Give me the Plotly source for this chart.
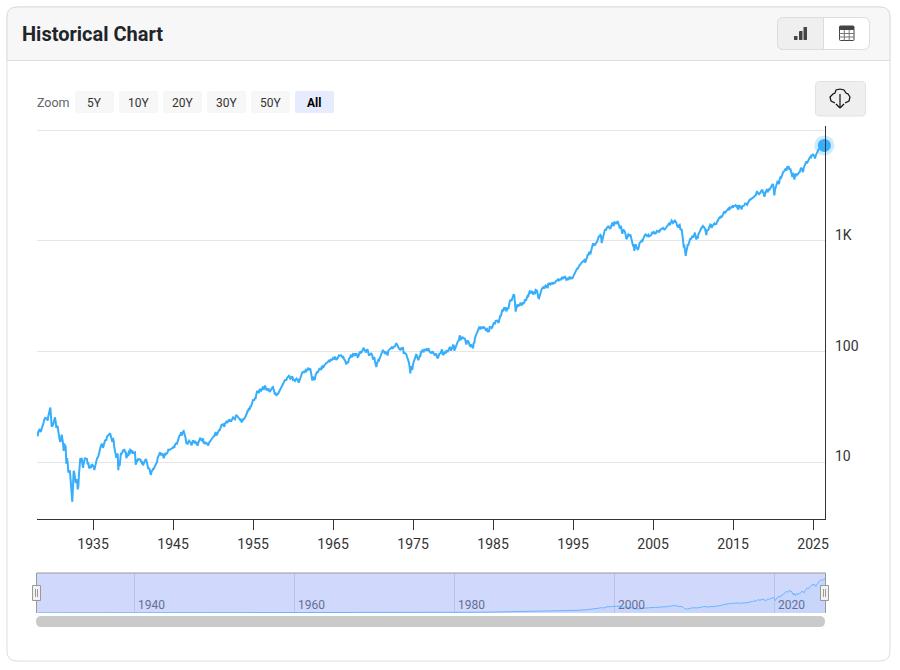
import pandas as pd
import plotly.graph_objects as go

# monthly closes, one row per year from 1928
closes = [
    17.6, 17.3, 18.9, 19.8, 20.0, 19.0, 19.1, 20.1, 21.0, 21.0, 23.0, 24.4,
    25.2, 25.0, 24.8, 25.2, 23.8, 26.1, 27.6, 29.9, 31.3, 26.0, 21.0, 21.5,
    21.7, 23.1, 24.5, 25.5, 23.5, 20.5, 21.2, 21.0, 19.0, 16.5, 16.0, 15.3,
    15.9, 17.8, 16.9, 15.0, 12.7, 14.8, 13.9, 13.9, 9.7, 10.9, 10.0, 8.1,
    8.3, 8.5, 7.5, 5.8, 4.5, 4.4, 6.1, 8.4, 8.0, 7.0, 6.5, 6.9,
    7.0, 5.7, 6.0, 7.8, 9.6, 10.9, 10.0, 11.0, 9.8, 8.9, 9.7, 10.1,
    11.0, 10.8, 10.8, 10.7, 9.6, 10.0, 8.8, 9.2, 9.1, 8.9, 9.5, 9.5,
    9.3, 9.1, 8.5, 9.3, 9.8, 10.2, 10.8, 11.0, 11.3, 12.0, 13.0, 13.4,
    14.2, 14.5, 14.7, 13.5, 14.3, 14.7, 15.7, 15.9, 15.9, 17.0, 17.3, 17.2,
    17.9, 18.1, 18.0, 16.5, 16.3, 15.3, 16.6, 15.7, 13.6, 12.8, 11.5, 11.0,
    11.3, 12.0, 8.5, 10.0, 9.3, 11.5, 12.2, 12.0, 12.3, 13.0, 12.5, 13.2,
    12.3, 12.6, 10.9, 11.3, 12.0, 11.4, 12.8, 11.8, 13.0, 12.9, 12.4, 12.5,
    12.0, 12.3, 12.2, 12.3, 9.5, 9.9, 10.2, 10.6, 10.5, 10.7, 10.6, 10.6,
    10.2, 9.9, 10.0, 9.4, 9.7, 10.2, 10.7, 10.7, 10.5, 9.8, 9.5, 8.7,
    8.9, 8.6, 8.0, 7.7, 8.3, 8.4, 8.7, 8.7, 9.0, 9.3, 9.4, 9.8,
    10.1, 11.0, 11.6, 11.7, 12.1, 12.3, 11.7, 11.7, 12.0, 11.7, 10.9, 11.5,
    11.9, 11.8, 12.2, 11.9, 12.3, 13.0, 12.9, 13.0, 13.0, 13.1, 13.2, 13.3,
    13.5, 14.0, 13.5, 14.4, 14.8, 14.9, 14.8, 15.5, 16.2, 16.9, 17.7, 17.4,
    18.7, 17.4, 18.4, 19.0, 19.2, 18.4, 17.9, 16.5, 14.9, 14.7, 14.7, 15.3,
    15.7, 15.4, 15.2, 14.6, 14.3, 15.1, 15.8, 15.3, 15.1, 15.4, 15.0, 15.3,
    14.7, 14.1, 15.0, 15.5, 16.6, 16.7, 16.0, 16.0, 15.5, 16.5, 14.8, 15.2,
    15.3, 14.6, 15.1, 14.7, 14.2, 14.2, 15.0, 15.3, 15.6, 16.0, 16.3, 16.8,
    17.0, 17.2, 17.3, 18.0, 18.8, 17.7, 17.8, 18.4, 19.5, 19.5, 19.5, 20.4,
    21.7, 22.0, 21.5, 22.4, 21.5, 21.0, 22.4, 23.3, 23.3, 22.9, 23.0, 23.8,
    24.1, 23.3, 24.4, 23.3, 23.9, 24.9, 25.4, 25.0, 24.5, 24.5, 26.0, 26.6,
    26.4, 25.9, 25.3, 24.6, 24.5, 24.1, 24.8, 23.3, 23.5, 24.5, 24.8, 24.8,
    26.1, 26.2, 26.9, 28.3, 29.2, 29.2, 30.9, 29.8, 32.3, 31.7, 34.2, 36.0,
    36.6, 36.8, 36.6, 38.0, 38.0, 41.0, 43.5, 43.2, 43.7, 42.3, 45.5, 45.5,
    43.8, 45.3, 48.5, 48.4, 45.2, 47.0, 49.4, 47.5, 45.4, 45.6, 45.1, 46.7,
    45.0, 43.3, 44.1, 45.7, 47.4, 47.4, 47.9, 45.2, 42.4, 41.1, 41.7, 39.9,
    41.7, 40.8, 42.1, 43.4, 44.1, 45.2, 47.2, 47.8, 50.1, 51.3, 52.5, 55.2,
    55.4, 55.4, 55.4, 57.6, 58.7, 58.5, 60.5, 59.6, 56.9, 57.5, 58.3, 59.9,
    55.6, 56.1, 55.3, 54.4, 55.8, 57.0, 55.5, 57.0, 53.5, 53.4, 55.5, 58.1,
    61.8, 63.4, 65.1, 65.3, 66.6, 64.6, 66.8, 68.1, 66.7, 68.6, 71.3, 71.5,
    68.8, 69.9, 69.6, 65.2, 59.6, 54.8, 58.2, 59.1, 56.3, 56.5, 62.3, 63.1,
    66.2, 64.3, 66.6, 70.0, 70.8, 69.4, 69.1, 72.5, 71.7, 74.0, 73.2, 75.0,
    77.0, 77.8, 78.9, 79.5, 80.4, 81.7, 83.2, 81.8, 84.2, 84.9, 84.4, 84.8,
    87.6, 87.4, 86.2, 89.1, 88.4, 84.1, 85.3, 87.2, 89.9, 92.4, 91.6, 92.4,
    92.9, 91.2, 89.2, 91.1, 86.1, 84.7, 83.6, 77.1, 76.6, 80.2, 80.5, 80.3,
    86.6, 87.4, 90.2, 94.0, 89.1, 90.6, 94.8, 93.6, 96.7, 93.3, 94.0, 96.5,
    92.2, 89.4, 90.2, 97.6, 98.7, 99.6, 97.7, 98.9, 102.7, 103.4, 108.4, 103.9,
    103.0, 98.1, 101.5, 103.7, 103.5, 97.7, 91.8, 95.5, 93.1, 97.2, 93.8, 92.1,
    85.0, 89.5, 89.6, 81.5, 76.6, 72.7, 78.0, 81.5, 84.2, 83.3, 87.2, 92.2,
    95.9, 97.0, 100.3, 103.9, 99.6, 99.7, 95.6, 99.0, 98.3, 94.2, 93.9, 102.1,
    103.9, 106.6, 107.2, 107.7, 109.5, 107.1, 107.4, 111.1, 110.6, 111.6, 116.7, 118.1,
    116.0, 111.7, 111.5, 106.9, 104.9, 104.3, 108.2, 104.3, 108.4, 108.3, 95.9, 97.6,
    96.6, 96.2, 93.9, 90.3, 87.3, 86.0, 79.3, 72.2, 63.5, 73.9, 69.9, 68.6,
    76.9, 81.6, 83.4, 87.3, 91.2, 95.2, 88.8, 86.9, 83.9, 89.0, 91.2, 90.2,
    100.9, 99.7, 102.8, 101.6, 100.2, 104.3, 103.4, 102.9, 105.2, 102.9, 102.1, 107.5,
    102.0, 99.8, 98.4, 98.4, 96.1, 100.5, 98.9, 96.8, 96.5, 92.3, 94.8, 95.1,
    89.3, 87.0, 89.2, 97.0, 97.2, 95.5, 100.7, 103.3, 102.5, 93.2, 94.7, 96.1,
    99.9, 96.3, 101.6, 101.8, 99.1, 102.9, 103.8, 109.3, 109.3, 101.8, 106.2, 107.9,
    114.2, 113.7, 102.1, 106.3, 111.2, 114.2, 121.7, 122.4, 125.5, 127.5, 140.5, 135.8,
    129.6, 131.3, 136.0, 132.8, 132.6, 131.2, 130.9, 122.8, 116.2, 121.9, 126.4, 122.6,
    120.4, 113.1, 112.0, 116.4, 111.9, 109.6, 107.1, 119.5, 120.4, 133.7, 138.5, 140.6,
    145.3, 148.1, 153.0, 164.4, 162.4, 168.1, 162.6, 164.4, 166.1, 163.6, 166.4, 164.9,
    163.4, 157.1, 159.2, 160.1, 150.6, 153.2, 150.7, 166.7, 166.1, 166.1, 163.6, 167.2,
    179.6, 181.2, 180.7, 179.8, 189.6, 191.9, 190.9, 188.6, 182.1, 189.8, 202.2, 211.3,
    211.8, 226.9, 238.9, 235.5, 247.4, 250.8, 236.1, 252.9, 231.3, 244.0, 249.2, 242.2,
    274.1, 284.2, 291.7, 288.4, 290.1, 304.0, 318.7, 329.8, 321.8, 251.8, 230.3, 247.1,
    257.1, 267.8, 258.9, 261.3, 262.2, 273.5, 272.0, 261.5, 271.9, 279.0, 273.7, 277.7,
    297.5, 288.9, 294.9, 309.6, 320.5, 318.0, 346.1, 351.5, 349.2, 340.4, 346.0, 353.4,
    329.1, 331.9, 339.9, 330.8, 361.2, 358.0, 356.2, 322.6, 306.1, 304.0, 322.2, 330.2,
    343.9, 367.1, 375.2, 375.3, 389.8, 371.2, 387.8, 395.4, 387.9, 392.5, 375.2, 417.1,
    408.8, 412.7, 403.7, 415.0, 415.4, 408.1, 424.2, 414.0, 417.8, 418.7, 431.4, 435.7,
    438.8, 443.4, 451.7, 440.2, 450.2, 450.5, 448.1, 463.6, 458.9, 467.8, 461.8, 466.5,
    481.6, 467.1, 445.8, 450.9, 456.5, 444.3, 458.3, 475.5, 462.7, 472.4, 453.7, 459.3,
    470.4, 487.4, 500.7, 514.7, 533.4, 544.8, 562.1, 561.9, 584.4, 581.5, 605.4, 615.9,
    636, 640, 646, 654, 669, 671, 640, 652, 687, 705, 757, 741,
    786, 791, 757, 801, 848, 885, 954, 900, 947, 915, 955, 970,
    980, 1049, 1102, 1112, 1091, 1134, 1121, 957, 1017, 1099, 1164, 1229,
    1280, 1238, 1286, 1335, 1302, 1373, 1329, 1320, 1283, 1363, 1389, 1469,
    1395, 1366, 1499, 1452, 1421, 1455, 1431, 1518, 1437, 1429, 1315, 1320,
    1366, 1240, 1160, 1250, 1256, 1224, 1211, 1134, 1041, 1060, 1140, 1148,
    1130, 1107, 1147, 1077, 1067, 990, 912, 916, 815, 886, 936, 880,
    856, 841, 848, 917, 964, 975, 990, 1008, 996, 1051, 1058, 1112,
    1131, 1145, 1126, 1107, 1121, 1141, 1102, 1104, 1115, 1130, 1174, 1212,
    1181, 1204, 1181, 1157, 1192, 1191, 1234, 1220, 1229, 1207, 1250, 1248,
    1280, 1281, 1295, 1311, 1270, 1270, 1277, 1304, 1336, 1378, 1401, 1418,
    1438, 1407, 1421, 1482, 1531, 1503, 1455, 1474, 1527, 1549, 1481, 1468,
    1379, 1331, 1323, 1386, 1400, 1280, 1267, 1283, 1166, 969, 896, 903,
    826, 735, 798, 873, 919, 919, 988, 1021, 1057, 1036, 1096, 1115,
    1074, 1105, 1169, 1187, 1089, 1031, 1102, 1049, 1141, 1183, 1181, 1258,
    1286, 1327, 1326, 1364, 1345, 1321, 1292, 1219, 1131, 1253, 1247, 1258,
    1312, 1366, 1409, 1398, 1310, 1362, 1379, 1407, 1441, 1412, 1416, 1426,
    1498, 1515, 1569, 1598, 1631, 1606, 1686, 1633, 1682, 1757, 1806, 1848,
    1783, 1860, 1872, 1884, 1924, 1960, 1931, 2003, 1972, 2018, 2068, 2059,
    1995, 2105, 2068, 2086, 2107, 2063, 2104, 1972, 1920, 2079, 2080, 2044,
    1940, 1932, 2060, 2065, 2097, 2099, 2174, 2171, 2168, 2126, 2199, 2239,
    2279, 2364, 2363, 2384, 2412, 2423, 2470, 2472, 2519, 2575, 2585, 2674,
    2824, 2714, 2641, 2648, 2705, 2718, 2816, 2902, 2914, 2712, 2760, 2507,
    2704, 2785, 2834, 2946, 2752, 2942, 2980, 2927, 2977, 3038, 3141, 3231,
    3226, 2954, 2585, 2912, 3044, 3100, 3271, 3500, 3363, 3270, 3622, 3756,
    3714, 3811, 3973, 4181, 4204, 4298, 4395, 4523, 4308, 4605, 4567, 4766,
    4516, 4374, 4530, 4132, 4132, 3785, 4130, 3955, 3586, 3872, 4080, 3840,
    4077, 3970, 4109, 4170, 4180, 4450, 4589, 4508, 4288, 4194, 4568, 4770,
    4846, 5096, 5254, 5036, 5278, 5460, 5522, 5648, 5763, 5705, 6032, 5882,
    6040, 5954, 5612, 5569, 5912, 6205, 6339, 6460, 6688, 6840, 6849, 6845,
    6939, 6879, 6900, 7000, 7150, 7300,
]
months = pd.date_range('1928-01-01', periods=len(closes), freq='MS')

y_ticks = [10, 100, 1000, 10000]
y_labels = {10: '10', 100: '100', 1000: '1K'}
nav_years = [1940, 1960, 1980, 2000, 2020]
zoom_buttons = ['5Y', '10Y', '20Y', '30Y', '50Y', 'All']

LINE = '#36aefc'
FONT = 'Roboto'
W, H = 900, 670


def fx(px):
    return px / W


def fy(py):
    return 1 - py / H


def box(x0, y0, x1, y1, r=0, tl=True, tr=True, br=True, bl=True):
    # rounded rectangle in paper coords, given in screen pixels
    def p(x, y):
        return f'{fx(x):.5f},{fy(y):.5f}'
    rtl, rtr, rbr, rbl = [r if c else 0 for c in (tl, tr, br, bl)]
    return (f'M{p(x0 + rtl, y0)} L{p(x1 - rtr, y0)} Q{p(x1, y0)} {p(x1, y0 + rtr)} '
            f'L{p(x1, y1 - rbr)} Q{p(x1, y1)} {p(x1 - rbr, y1)} L{p(x0 + rbl, y1)} '
            f'Q{p(x0, y1)} {p(x0, y1 - rbl)} L{p(x0, y0 + rtl)} Q{p(x0, y0)} {p(x0 + rtl, y0)} Z')


def add_box(fig, x0, y0, x1, y1, r=0, fill='rgba(0,0,0,0)', line=None, width=1, layer='below', **corners):
    fig.add_shape(type='path', path=box(x0, y0, x1, y1, r, **corners), xref='paper', yref='paper',
                  fillcolor=fill, line=dict(color=line or 'rgba(0,0,0,0)', width=width if line else 0),
                  layer=layer)


def add_line(fig, x0, y0, x1, y1, color, width=1, layer='below'):
    fig.add_shape(type='line', xref='paper', yref='paper', x0=fx(x0), y0=fy(y0), x1=fx(x1), y1=fy(y1),
                  line=dict(color=color, width=width), layer=layer)


def add_text(fig, x, y, text, size=12, color='#333333', anchor='left', bold=False):
    # annotations carry about 2px of padding, pull left aligned text back over it
    fig.add_annotation(xref='paper', yref='paper', x=fx(x), y=fy(y), text=f'<b>{text}</b>' if bold else text,
                       showarrow=False, xanchor=anchor, yanchor='middle', xshift=-2 if anchor == 'left' else 0,
                       font=dict(family=FONT, size=size, color=color))


fig = go.Figure()

fig.add_trace(go.Scatter(x=months, y=closes, mode='lines', line=dict(color=LINE, width=2), hoverinfo='skip'))
fig.add_trace(go.Scatter(x=months[-1:], y=closes[-1:], mode='markers', cliponaxis=False, hoverinfo='skip',
                         marker=dict(color=LINE, size=20, opacity=0.25)))
fig.add_trace(go.Scatter(x=months[-1:], y=closes[-1:], mode='markers', cliponaxis=False, hoverinfo='skip',
                         marker=dict(color=LINE, size=13)))
fig.add_trace(go.Scatter(x=months, y=closes, mode='lines', xaxis='x2', yaxis='y2', hoverinfo='skip',
                         line=dict(color='#6ab5ff', width=1), fill='tozeroy', fillcolor='rgba(54,174,252,0.05)'))

# card and header
add_box(fig, 7, 7, 890, 661, 10, fill='white', line='#dddddd')
add_box(fig, 7, 7, 890, 60.5, 10, fill='#f7f7f7', line='#dddddd', bl=False, br=False)
add_text(fig, 22, 33.5, 'Historical Chart', size=20, color='#212529', bold=True)

# chart / table toggle
add_box(fig, 777.5, 17.5, 869.5, 49.5, 6, fill='white', line='#dddddd')
add_box(fig, 777.5, 17.5, 823.5, 49.5, 6, fill='#efefef', line='#dddddd', tr=False, br=False)
for x0, top in [(794, 36), (799, 31), (803.5, 27)]:
    add_box(fig, x0, top, x0 + 3.5, 40, 0.5, fill='#444444')
add_box(fig, 839.5, 26, 854, 30, 1, fill='#444444')
add_box(fig, 839.5, 26, 854, 40.5, 1, line='#444444')
for x in (844.3, 849.2):
    add_line(fig, x, 30, x, 40.5, '#777777')
for y in (33.5, 37):
    add_line(fig, 839.5, y, 854, y, '#777777')

# download button
add_box(fig, 815.5, 81.5, 865.5, 116, 4, fill='#efefef', line='#e2e2e2')
cloud = [(835, 103), (831, 101), (830, 97), (833, 94), (835, 93), (836, 90), (840, 89), (844, 90),
         (846, 93), (848, 94), (850, 97), (849, 101), (845, 103)]
cloud_path = 'M' + ' L'.join(f'{fx(a):.5f},{fy(b):.5f}' for a, b in cloud)
fig.add_shape(type='path', path=cloud_path, xref='paper', yref='paper', line=dict(color='#111111', width=1.2),
              layer='below')
add_line(fig, 840, 94, 840, 108, '#111111', 1.2)
add_line(fig, 836, 104, 840, 108, '#111111', 1.2)
add_line(fig, 844, 104, 840, 108, '#111111', 1.2)

# zoom row
add_text(fig, 37, 103, 'Zoom', size=12.5, color='#666666')
for i, label in enumerate(zoom_buttons):
    x0 = 75 + i * 44
    active = label == 'All'
    add_box(fig, x0, 91, x0 + 39, 113, 2, fill='#e6ebfd' if active else '#f7f7f7')
    add_text(fig, x0 + 19, 102.5, label, size=12, color='#000000' if active else '#333333',
             anchor='center', bold=active)

# y labels sit just above their grid lines
for value, label in y_labels.items():
    fig.add_annotation(xref='paper', yref='y', x=fx(836), y=len(str(value)) - 1, xshift=-3, yshift=6, text=label,
                       showarrow=False, xanchor='left', yanchor='middle',
                       font=dict(family=FONT, size=14, color='#333333'))

# navigator
add_box(fig, 37, 573, 825, 613, fill='#d0d9fc')
add_line(fig, 36.5, 573, 825.5, 573, '#999999', 1, layer='above')
add_line(fig, 36.5, 573, 36.5, 613, '#999999', 1, layer='above')
add_line(fig, 825.5, 573, 825.5, 613, '#999999', 1, layer='above')
for year in nav_years:
    fig.add_annotation(xref='x2', yref='paper', x=f'{year}-01-01', xshift=2, y=fy(605), text=str(year),
                       showarrow=False, xanchor='left', yanchor='middle',
                       font=dict(family=FONT, size=12, color='#666e94'))
for x0 in (32.5, 820.5):
    add_box(fig, x0, 585.5, x0 + 8, 600.5, fill='#f2f2f2', line='#999999', layer='above')
    add_line(fig, x0 + 3, 589, x0 + 3, 597, '#999999', 1, layer='above')
    add_line(fig, x0 + 5, 589, x0 + 5, 597, '#999999', 1, layer='above')
add_box(fig, 36, 616, 825, 627, 5.5, fill='#cacaca')

x_range = ['1928-01-01', '2026-07-01']
nav_range = ['1927-11-15', '2026-05-15']
fig.update_layout(
    width=W, height=H,
    margin=dict(l=0, r=0, t=0, b=0, autoexpand=False),
    paper_bgcolor='white', plot_bgcolor='rgba(0,0,0,0)',
    showlegend=False,
    font=dict(family=FONT),
    xaxis=dict(domain=[fx(37), fx(825)], anchor='y', type='date', range=x_range, tick0='1935-01-01', dtick='M120',
               tickformat='%Y', ticks='outside', ticklen=10, tickcolor='#333333', showgrid=False, showline=True,
               linecolor='#333333', linewidth=1, zeroline=False, ticklabelstandoff=2,
               tickfont=dict(family=FONT, size=14, color='#333333')),
    yaxis=dict(domain=[fy(519), fy(126)], anchor='x', type='log', side='right', range=[0.488, 4.039],
               tickvals=y_ticks, showticklabels=False, ticks='', gridcolor='#e6e6e6', gridwidth=1, showline=True,
               linecolor='#333333', linewidth=1, zeroline=False),
    xaxis2=dict(domain=[fx(37), fx(825)], anchor='y2', type='date', range=nav_range,
                tickvals=[f'{y}-01-01' for y in nav_years], showticklabels=False, ticks='', gridcolor='#b9c3ea',
                gridwidth=1, zeroline=False, showline=False),
    yaxis2=dict(domain=[fy(613), fy(573)], anchor='x2', range=[0, 8340], visible=False),
)

fig.write_html('out.html', config={'displayModeBar': False},
               post_script="document.body.style.margin='0';")
